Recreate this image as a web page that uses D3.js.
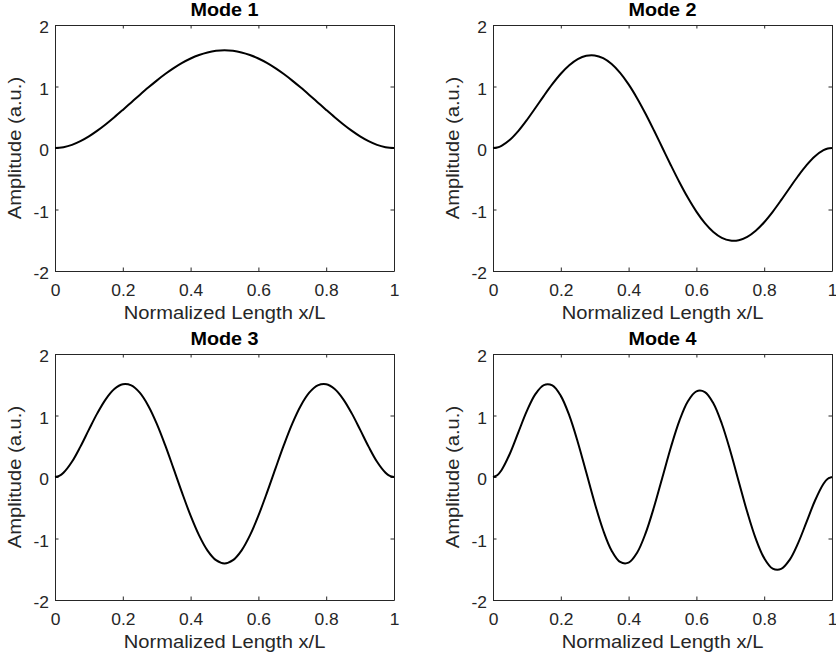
<!DOCTYPE html>
<html><head><meta charset="utf-8">
<script src="https://cdn.jsdelivr.net/npm/d3@7"></script>
<style>body{margin:0;background:#fff}</style></head><body>
<svg id="c" width="836" height="660"></svg>
<script>
// ---- data ----
const xPos = [0,0.0125,0.025,0.05,0.075,0.1,0.125,0.15,0.175,0.2,0.225,0.25,0.275,0.3,0.325,0.35,0.375,0.4,0.425,0.45,0.475,0.5,
  0.525,0.55,0.575,0.6,0.625,0.65,0.675,0.7,0.725,0.75,0.775,0.8,0.825,0.85,0.875,0.9,0.925,0.95,0.975,0.9875,1];
const mode1 = [0,0.0034,0.0134,0.0516,0.1113,0.1891,0.2820,0.3868,0.5002,0.6194,0.7413,0.8631,0.9822,1.0960,1.2022,1.2987,1.3837,1.4555,1.5127,1.5543,1.5796,1.5882,
  1.5796,1.5543,1.5127,1.4555,1.3837,1.2987,1.2022,1.0960,0.9822,0.8631,0.7413,0.6194,0.5002,0.3868,0.2820,0.1891,0.1113,0.0516,0.0134,0.0034,0];
const mode2 = [0,0.0093,0.0360,0.1340,0.2789,0.4557,0.6502,0.8485,1.0379,1.2068,1.3451,1.4449,1.4997,1.5055,1.4605,1.3650,1.2215,1.0346,0.8106,0.5573,0.2838,0,
  -0.2838,-0.5573,-0.8106,-1.0346,-1.2215,-1.3650,-1.4605,-1.5055,-1.4997,-1.4449,-1.3451,-1.2068,-1.0379,-0.8485,-0.6502,-0.4557,-0.2789,-0.1340,-0.0360,-0.0093,0];
const mode3 = [0,0.0180,0.0686,0.2469,0.4939,0.7701,1.0387,1.2676,1.4304,1.5078,1.4888,1.3708,1.1596,0.8686,0.5181,0.1328,-0.2587,-0.6284,-0.9488,-1.1963,-1.3526,-1.4060,
  -1.3526,-1.1963,-0.9488,-0.6284,-0.2587,0.1328,0.5181,0.8686,1.1596,1.3708,1.4888,1.5078,1.4304,1.2676,1.0387,0.7701,0.4939,0.2469,0.0686,0.0180,0];
const mode4 = [0,0.0294,0.1102,0.3822,0.7302,1.0745,1.3467,1.4951,1.4887,1.3192,1.0015,0.5704,0.0760,-0.4226,-0.8654,-1.1987,-1.3821,-1.3933,-1.2317,-0.9172,-0.4889,0,
  0.4889,0.9172,1.2317,1.3933,1.3821,1.1987,0.8654,0.4226,-0.0760,-0.5704,-1.0015,-1.3192,-1.4887,-1.4951,-1.3467,-1.0745,-0.7302,-0.3822,-0.1102,-0.0294,0];
const modeTitles = ["Mode 1","Mode 2","Mode 3","Mode 4"];
const modeSeries = [mode1, mode2, mode3, mode4];
const xTicks = [0,0.2,0.4,0.6,0.8,1];
const yTicks = [-2,-1,0,1,2];
const xDomain = [0,1];
const yDomain = [-2,2];
const xLabelText = "Normalized Length x/L";
const yLabelText = "Amplitude (a.u.)";

// ---- layout ----
const W = 339, H = 246;
const panelPos = [{l:55,t:25},{l:493,t:25},{l:55,t:354},{l:493,t:354}];
const FONT = "'Liberation Sans', Arial, Helvetica, sans-serif";
const TXT = "#262626", AX = "#262626";
const TL = 3.5;
const SX = 1.09, SXT = 1.1;

const svg = d3.select("#c");

modeSeries.forEach((vals, i) => {
  const p = panelPos[i];
  const x = d3.scaleLinear().domain(xDomain).range([p.l, p.l + W]);
  const y = d3.scaleLinear().domain(yDomain).range([p.t + H, p.t]);
  const g = svg.append("g");

  // bottom axis
  const gb = g.append("g").attr("transform", `translate(0,${p.t + H})`)
    .call(d3.axisBottom(x).tickValues(xTicks).tickSizeInner(-TL).tickSizeOuter(0).tickFormat(d => String(d)));
  gb.selectAll("text").attr("x", 0).attr("y", 0).attr("dy", null)
    .attr("transform", `translate(0,24.5) scale(${SX},1)`);
  // left axis
  const gl = g.append("g").attr("transform", `translate(${p.l},0)`)
    .call(d3.axisLeft(y).tickValues(yTicks).tickSizeInner(-TL).tickSizeOuter(0).tickFormat(d => String(d)));
  gl.selectAll("text").attr("x", 0).attr("y", 0).attr("dy", null)
    .attr("transform", `translate(-6,7.5) scale(${SX},1)`);
  // top axis
  g.append("g").attr("transform", `translate(0,${p.t})`)
    .call(d3.axisTop(x).tickValues(xTicks).tickSizeInner(-TL).tickSizeOuter(0).tickFormat(""));
  // right axis
  g.append("g").attr("transform", `translate(${p.l + W},0)`)
    .call(d3.axisRight(y).tickValues(yTicks).tickSizeInner(-TL).tickSizeOuter(0).tickFormat(""));

  g.selectAll(".domain").attr("stroke", AX).attr("stroke-width", 1);
  g.selectAll(".tick line").attr("stroke", AX).attr("stroke-width", 1);
  g.selectAll(".tick text").attr("fill", TXT).style("font-family", FONT).style("font-size", "16px");

  // curve
  const line = d3.line().x((d, k) => x(xPos[k])).y(d => y(d)).curve(d3.curveCatmullRom.alpha(0.5));
  g.append("path").datum(vals).attr("d", line)
    .attr("fill", "none").attr("stroke", "#000").attr("stroke-width", 2).attr("stroke-linejoin", "round");

  // title
  g.append("text").attr("transform", `translate(${p.l + W / 2},${p.t - 9}) scale(${SXT},1)`)
    .attr("text-anchor", "middle").attr("fill", "#000")
    .style("font-family", FONT).style("font-size", "18px").style("font-weight", "bold")
    .text(modeTitles[i]);
  // x label
  g.append("text").attr("transform", `translate(${p.l + W / 2},${p.t + H + 48}) scale(${SX},1)`)
    .attr("text-anchor", "middle").attr("fill", TXT)
    .style("font-family", FONT).style("font-size", "18.5px")
    .text(xLabelText);
  // y label
  g.append("text").attr("transform", `translate(${p.l - 34.5},${p.t + H / 2}) rotate(-90) scale(${SX},1)`)
    .attr("text-anchor", "middle").attr("fill", TXT)
    .style("font-family", FONT).style("font-size", "18.5px")
    .text(yLabelText);
});
</script>
</body></html>
